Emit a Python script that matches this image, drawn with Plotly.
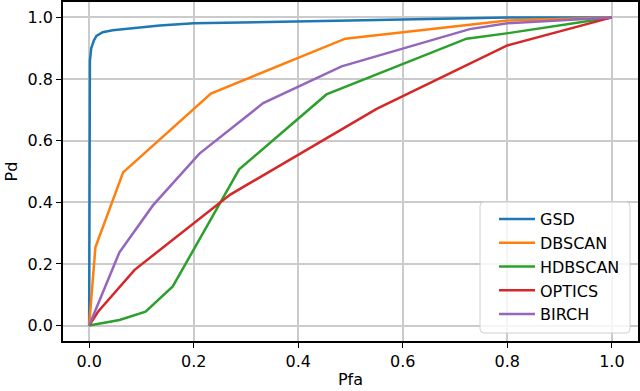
import plotly.graph_objects as go

names = ["GSD", "DBSCAN", "HDBSCAN", "OPTICS", "BIRCH"]
colors = ["#1f77b4", "#ff7f0e", "#2ca02c", "#d62728", "#9467bd"]

gsd_pfa = [0.0, 0.0008, 0.0015, 0.004, 0.009, 0.014, 0.026, 0.045, 0.071, 0.135, 0.2, 0.326, 0.5, 0.65, 0.8, 1.0]
gsd_pd = [0.0, 0.5, 0.86, 0.9, 0.925, 0.94, 0.952, 0.958, 0.963, 0.974, 0.981, 0.984, 0.99, 0.995, 1.0, 1.0]

dbscan_pfa = [0.0, 0.012, 0.065, 0.233, 0.49, 0.8, 1.0]
dbscan_pd = [0.0, 0.254, 0.497, 0.753, 0.931, 0.99, 1.0]

hdbscan_pfa = [0.0, 0.058, 0.108, 0.16, 0.287, 0.454, 0.722, 0.802, 1.0]
hdbscan_pd = [0.0, 0.018, 0.045, 0.127, 0.507, 0.75, 0.931, 0.949, 1.0]

optics_pfa = [0.0, 0.017, 0.087, 0.27, 0.55, 0.8, 1.0]
optics_pd = [0.0, 0.045, 0.181, 0.425, 0.703, 0.909, 1.0]

birch_pfa = [0.0, 0.058, 0.122, 0.211, 0.333, 0.483, 0.728, 0.8, 1.0]
birch_pd = [0.0, 0.238, 0.39, 0.558, 0.722, 0.841, 0.962, 0.981, 1.0]

xs = [gsd_pfa, dbscan_pfa, hdbscan_pfa, optics_pfa, birch_pfa]
ys = [gsd_pd, dbscan_pd, hdbscan_pd, optics_pd, birch_pd]

tick_vals = [0.0, 0.2, 0.4, 0.6, 0.8, 1.0]
tick_text = ["0.0", "0.2", "0.4", "0.6", "0.8", "1.0"]

FONT = "DejaVu Sans"
FS = 16
W, H = 640, 391
ML, MR, MT, MB = 63, 2, 2, 50
PW, PH = W - ML - MR, H - MT - MB

fig = go.Figure()
for n, c, x, y in zip(names, colors, xs, ys):
    fig.add_trace(go.Scatter(x=x, y=y, mode="lines", name=n,
                             line=dict(color=c, width=2.5)))

axis_common = dict(
    range=[-0.05, 1.05], tickvals=tick_vals, ticktext=tick_text,
    showgrid=True, gridcolor="#cbcbcb", gridwidth=1.5,
    showline=True, linecolor="black", linewidth=1.5, mirror=True,
    ticks="outside", ticklen=5, tickwidth=1.3, tickcolor="black",
    zeroline=False, tickfont=dict(family=FONT, size=FS, color="black"),
    automargin=False,
)
fig.update_xaxes(**axis_common, title=dict(text="Pfa", font=dict(family=FONT, size=FS, color="black"), standoff=4))
fig.update_yaxes(**axis_common, title=dict(text="Pd", font=dict(family=FONT, size=FS, color="black"), standoff=6))

# legend frame (pixel box -> paper coords)
def px(x):
    return (x - ML) / PW

def py(y):
    return (H - MB - y) / PH

bx0, bx1, by0, by1, r = 480, 630, 202, 333, 4
rx, ry = r / PW, r / PH
x0, x1, y0, y1 = px(bx0), px(bx1), py(by1), py(by0)
path = (f"M {x0+rx},{y0} L {x1-rx},{y0} Q {x1},{y0} {x1},{y0+ry} "
        f"L {x1},{y1-ry} Q {x1},{y1} {x1-rx},{y1} L {x0+rx},{y1} "
        f"Q {x0},{y1} {x0},{y1-ry} L {x0},{y0+ry} Q {x0},{y0} {x0+rx},{y0} Z")
fig.add_shape(type="path", path=path, xref="paper", yref="paper",
              fillcolor="rgba(255,255,255,0.8)", line=dict(color="#d0d0d0", width=1),
              layer="above")

fig.update_layout(
    width=W, height=H,
    margin=dict(l=ML, r=MR, t=MT, b=MB),
    plot_bgcolor="white", paper_bgcolor="white",
    font=dict(family=FONT, size=FS, color="black"),
    legend=dict(x=px(494), y=py(202), xanchor="left", yanchor="top",
                bgcolor="rgba(0,0,0,0)", borderwidth=0,
                font=dict(family=FONT, size=FS, color="black"),
                tracegroupgap=0, itemwidth=36),
    showlegend=True,
)

fig.write_html("out.html", config={"displayModeBar": False},
               post_script="document.body.style.margin='0';document.body.style.padding='0';")
